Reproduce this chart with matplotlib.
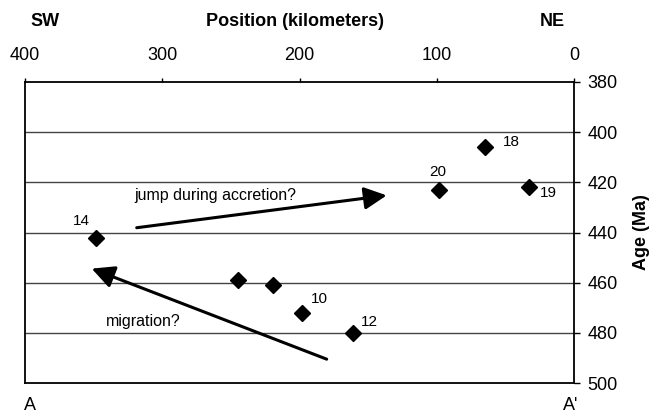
import matplotlib
matplotlib.use("Agg")
import matplotlib.pyplot as plt

plt.rcParams['font.family'] = ['Liberation Sans', 'DejaVu Sans']

# sample positions along the SW-NE section and their ages
position_km = [348, 98, 65, 33, 245, 219, 198, 161]
age_ma = [442, 423, 406, 422, 459, 461, 472, 480]
sample_ids = ['14', '20', '18', '19', '', '', '10', '12']

x_ticks = [400, 300, 200, 100, 0]
y_ticks = [380, 400, 420, 440, 460, 480, 500]

# label offsets in points for each sample id
label_offsets = {
    '14': (-11, 12), '20': (-1, 13), '18': (19, 4), '19': (14, -4),
    '10': (12, 10), '12': (12, 8),
}

fig = plt.figure(figsize=(6.52, 4.12), dpi=100)
ax = fig.add_axes([25 / 652, 1 - 383 / 412, 549 / 652, 301 / 412])

ax.set_xlim(400, 0)
ax.set_ylim(500, 380)
ax.set_xticks(x_ticks)
ax.set_yticks(y_ticks)
ax.xaxis.tick_top()
ax.yaxis.tick_right()
ax.tick_params(axis='x', direction='out', length=3, width=1.0, pad=10, labelsize=13)
ax.tick_params(axis='y', direction='out', length=4.5, width=1.0, pad=5, labelsize=13)

for spine in ax.spines.values():
    spine.set_linewidth(1.3)
    spine.set_color('black')

for y in y_ticks[1:-1]:
    ax.axhline(y, color='#444444', lw=1.0, zorder=1)

ax.plot(position_km, age_ma, linestyle='none', marker='D', markersize=8.5,
        color='black', zorder=3)

for x, y, sid in zip(position_km, age_ma, sample_ids):
    if sid:
        dx, dy = label_offsets[sid]
        ax.annotate(sid, (x, y), xytext=(dx, dy), textcoords='offset points',
                    ha='center', va='center', fontsize=11)

arrow_style = dict(arrowstyle='-|>,head_length=0.4,head_width=0.2',
                   lw=2.2, color='black', mutation_scale=34,
                   shrinkA=0, shrinkB=0)
ax.annotate('', xy=(136.5, 425.2), xytext=(318.6, 438.1), arrowprops=arrow_style)
ax.annotate('', xy=(351.4, 454.4), xytext=(180.2, 490.5), arrowprops=arrow_style)

ax.text(261.6, 425.2, 'jump during accretion?', ha='center', va='center', fontsize=11.5)
ax.text(313.8, 475.5, 'migration?', ha='center', va='center', fontsize=11.5)

fig.text(45 / 652, 1 - 21 / 412, 'SW', ha='center', va='center', fontsize=13, fontweight='bold')
fig.text(295 / 652, 1 - 21 / 412, 'Position (kilometers)', ha='center', va='center',
         fontsize=13, fontweight='bold')
fig.text(552 / 652, 1 - 21 / 412, 'NE', ha='center', va='center', fontsize=13, fontweight='bold')
fig.text(641 / 652, 1 - 232 / 412, 'Age (Ma)', ha='center', va='center', rotation=90,
         fontsize=13, fontweight='bold')
fig.text(30 / 652, 1 - 405 / 412, 'A', ha='center', va='center', fontsize=13)
fig.text(571 / 652, 1 - 405 / 412, "A'", ha='center', va='center', fontsize=13)

fig.savefig('out.png', dpi=100)
